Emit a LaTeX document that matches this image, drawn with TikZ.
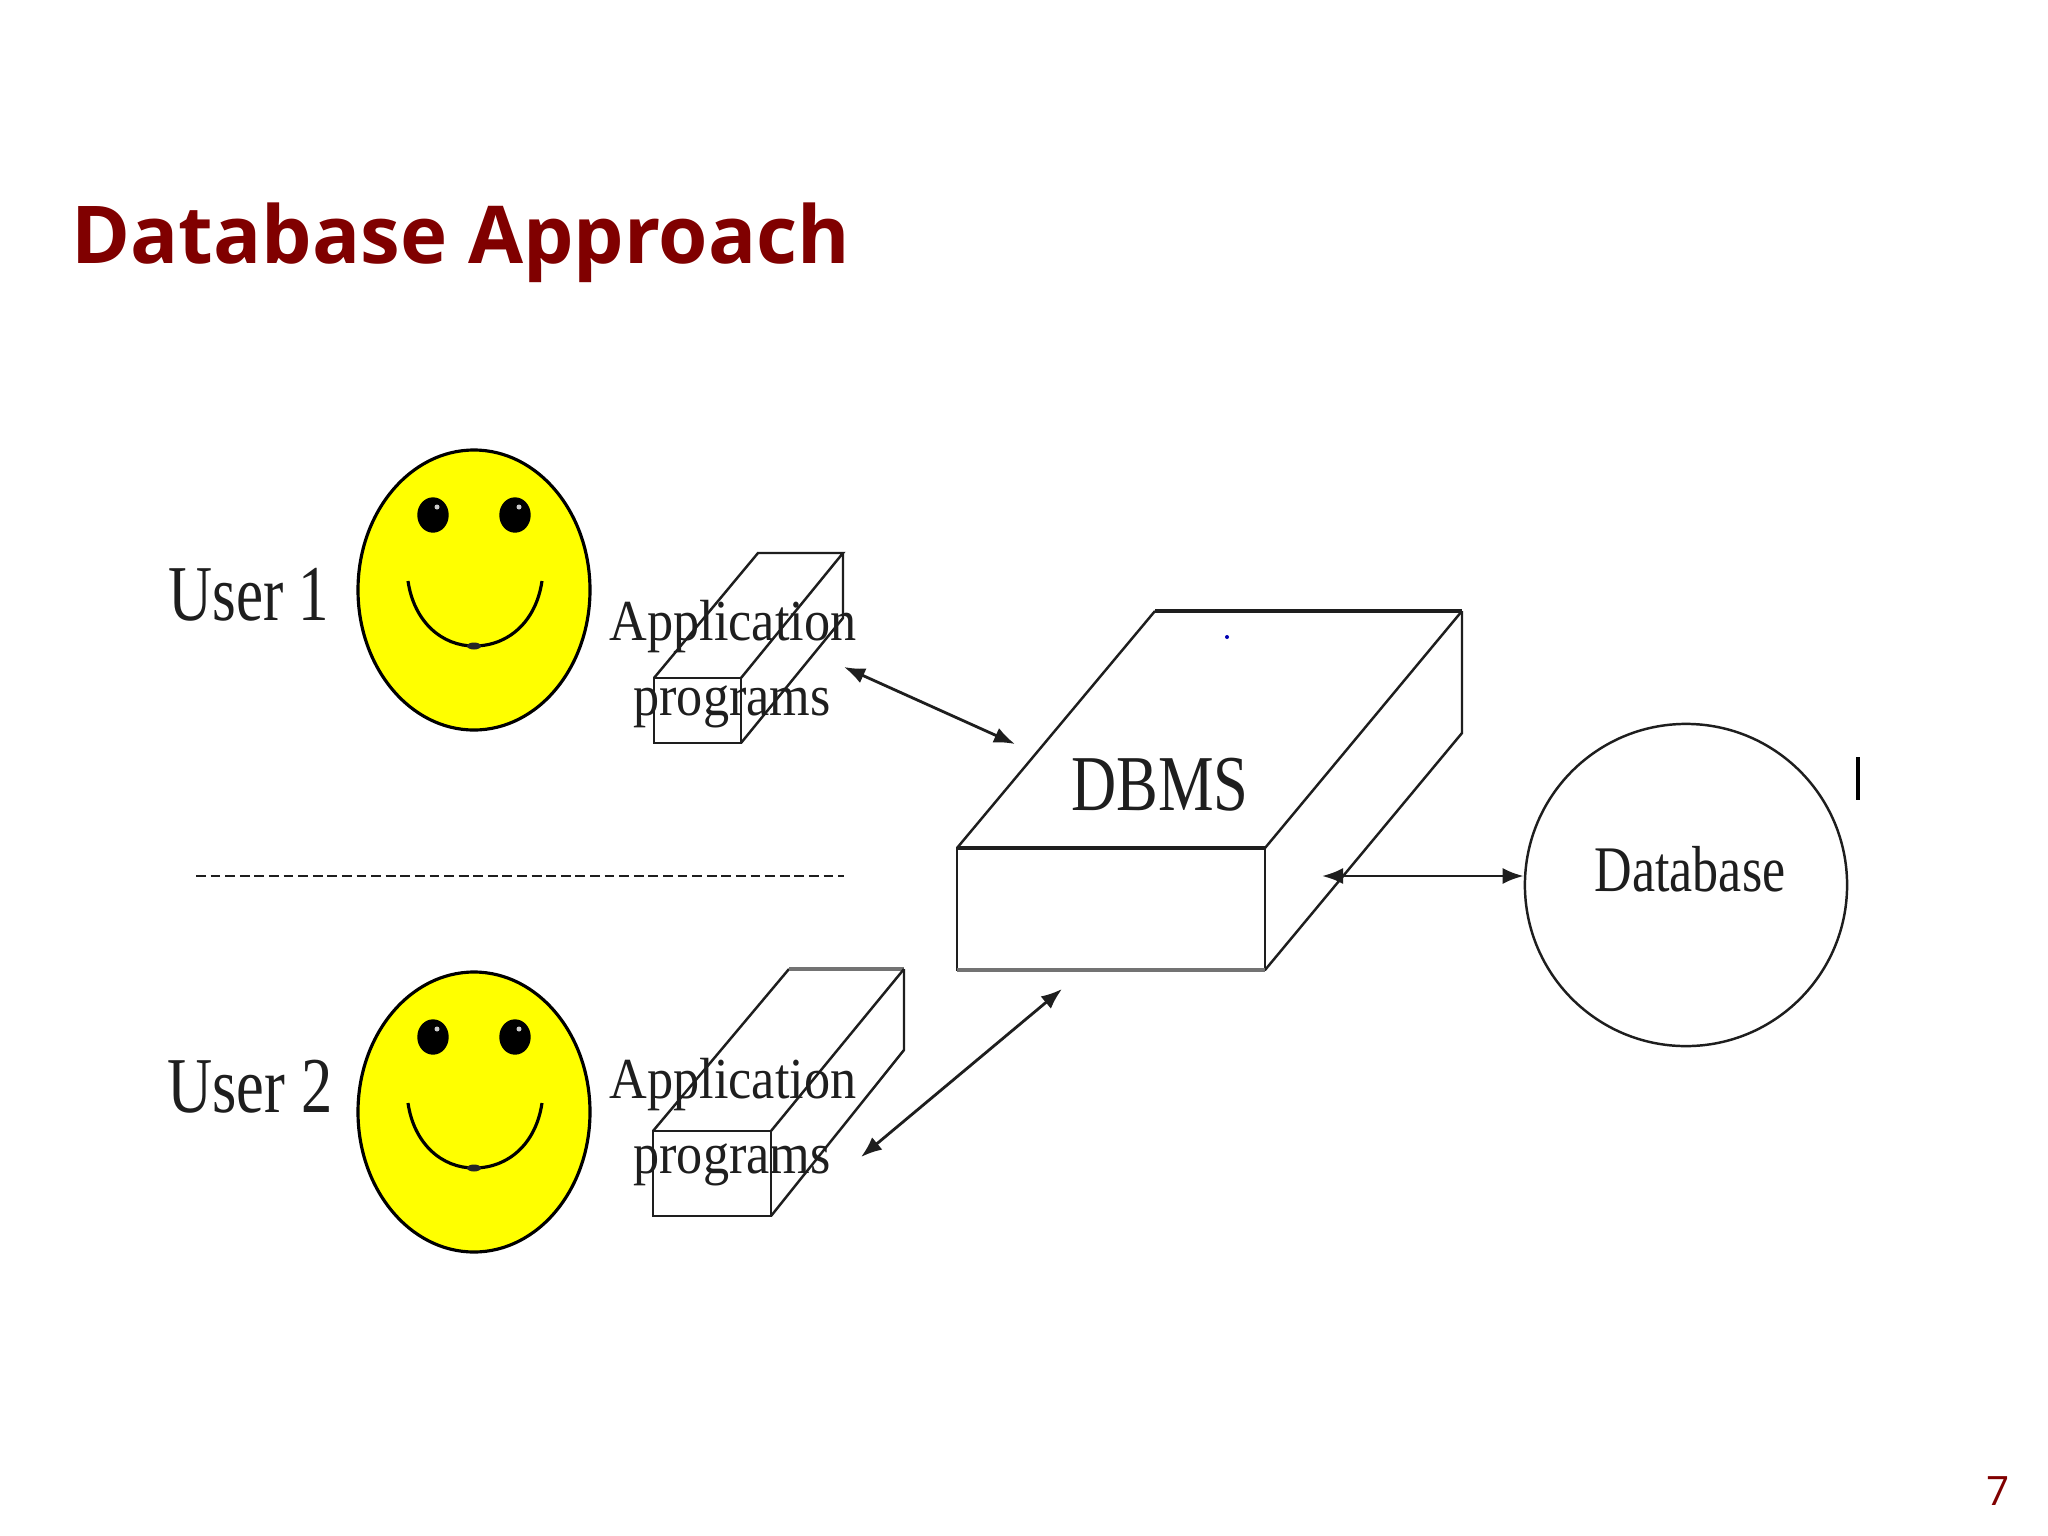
\documentclass[tikz,border=0pt]{standalone}
\usepackage{fontspec}
\setmainfont{Liberation Serif}
\newfontfamily\slidefont{Open Sans}
\usepackage{tikz}
\usetikzlibrary{arrows.meta}
\definecolor{slidered}{HTML}{800000}
\definecolor{inkgray}{HTML}{1E1E1E}
\definecolor{faceyellow}{RGB}{255,255,0}
\tikzset{
	boxline/.style={line width=0.7pt, color=inkgray},
	linkarrow/.style={line width=0.8pt, color=inkgray, {Latex[length=2.1mm,width=1.6mm]}-{Latex[length=2.1mm,width=1.6mm]}},
	facelabel/.style={inner sep=0pt, anchor=base, color=inkgray, transform shape},
}
\def\smileyface(#1,#2){
	\draw[fill=faceyellow, line width=0.9pt] (#1, #2) ellipse (116 and 140);
	\draw[fill=black] (#1-41, #2-75) ellipse (15 and 17);
	\draw[fill=black] (#1+41, #2-75) ellipse (15 and 17);
	\fill[white!80!black] (#1-37, #2-83) circle (2.5);
	\fill[white!80!black] (#1+45, #2-83) circle (2.5);
	\draw[line width=0.9pt] (#1-66, #2-9) .. controls (#1-60, #2+32) and (#1-32, #2+56) .. (#1, #2+56) .. controls (#1+34, #2+56) and (#1+62, #2+32) .. (#1+68, #2-9);
	\fill[black!85] (#1, #2+56) ellipse (7 and 3.5);
}
\begin{document}
\begin{tikzpicture}[x=0.01cm, y=-0.01cm]
			%%%%% START %%%%%
			\useasboundingbox[fill=white] (0, 0) rectangle (2048, 1536);
			
			\node[anchor=base west, inner sep=0pt, color=slidered] (title) at (71, 263) {\slidefont\bfseries\fontsize{22.7}{28}\selectfont Database Approach};
			\node[anchor=base east, inner sep=0pt, color=slidered] (pagenum) at (2010, 1505) {\slidefont\fontsize{11.5}{13}\selectfont 7};
			
			\smileyface(474, 590)
			\smileyface(474, 1112)
			
			\node[facelabel, xscale=0.77] (user1) at (249, 620) {\fontsize{22.5}{26}\selectfont User 1};
			\node[facelabel, xscale=0.79] (user2) at (250, 1112) {\fontsize{22.5}{26}\selectfont User 2};
			
			% first program box
			\draw[boxline] (654, 678) rectangle (741, 743);
			\draw[boxline] (654, 678) -- (758, 553) -- (843, 553) -- (741, 678);
			\draw[boxline] (843, 553) -- (843, 618) -- (741, 743);
			\node[facelabel, xscale=0.9] (app1) at (733, 640) {\fontsize{16.5}{20}\selectfont Application};
			\node[facelabel, xscale=0.9] (prog1) at (732, 715) {\fontsize{16.5}{20}\selectfont programs};
			
			% second program box
			\draw[boxline] (653, 1131) rectangle (771, 1216);
			\draw[boxline] (653, 1131) -- (789, 969);
			\draw[line width=1pt, color=black!55] (789, 969) -- (904, 969);
			\draw[boxline] (904, 969) -- (771, 1131);
			\draw[boxline] (904, 969) -- (904, 1050) -- (771, 1216);
			\node[facelabel, xscale=0.9] (app2) at (733, 1098) {\fontsize{16.5}{20}\selectfont Application};
			\node[facelabel, xscale=0.9] (prog2) at (732, 1173) {\fontsize{16.5}{20}\selectfont programs};
			
			\draw[line width=0.8pt, color=inkgray, dash pattern=on 2.8pt off 1.35pt] (196, 876) -- (844, 876);
			
			% dbms box
			\draw[boxline] (957, 848) rectangle (1265, 970);
			\draw[boxline, line width=0.9pt] (957, 848) -- (1265, 848);
			\draw[boxline] (957, 848) -- (1155, 611);
			\draw[boxline, line width=0.9pt] (1155, 611) -- (1462, 611);
			\draw[boxline] (1462, 611) -- (1265, 848);
			\draw[boxline] (1462, 611) -- (1462, 733) -- (1265, 970);
			\draw[line width=1.2pt, color=black!55] (957, 970) -- (1265, 970);
			\node[facelabel, xscale=0.79] (dbms) at (1160, 810) {\fontsize{22.5}{26}\selectfont DBMS};
			\fill[blue!70!black] (1227, 637) circle (2);
			
			\node[draw=inkgray, line width=0.7pt, circle, minimum size=3.22cm, inner sep=0pt] (database) at (1686, 885) {};
			\node[facelabel, xscale=0.8] (dblabel) at (1690, 891) {\fontsize{18.5}{22}\selectfont Database};
			\draw[line width=1pt, color=black] (1858, 757) -- (1858, 800);
			
			\coordinate (appone) at (844, 667);
			\coordinate (dbmsone) at (1015, 744);
			\coordinate (apptwo) at (861, 1157);
			\coordinate (dbmstwo) at (1062, 989);
			\coordinate (dbmsthree) at (1322, 876);
			\draw[linkarrow] (appone) -- (dbmsone);
			\draw[linkarrow] (apptwo) -- (dbmstwo);
			\draw[linkarrow] (dbmsthree) -- (database.west |- dbmsthree);
			
			%%%%% END %%%%%
		\end{tikzpicture}
\end{document}
